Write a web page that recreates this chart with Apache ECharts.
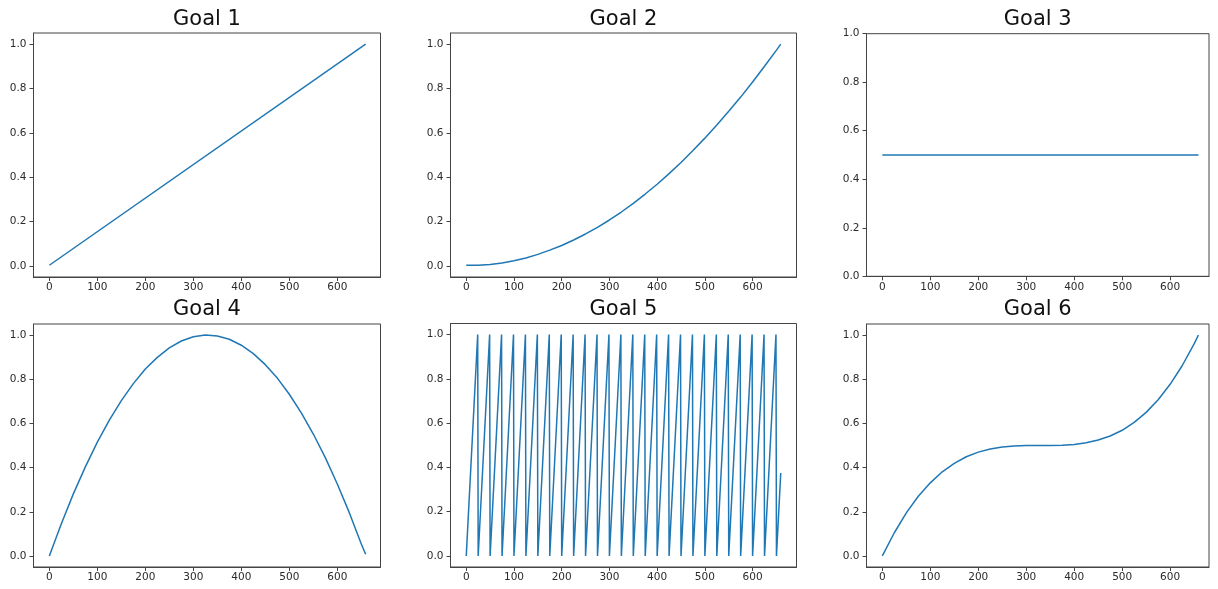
<!DOCTYPE html>
<html><head><meta charset="utf-8">
<script src="https://cdn.jsdelivr.net/npm/echarts@6/dist/echarts.min.js"></script>
<style>html,body{margin:0;padding:0;background:#fff}#c{width:1218px;height:589px}</style>
</head><body><div id="c"></div>
<script>
// ---- data ----
const titles = ['Goal 1', 'Goal 2', 'Goal 3', 'Goal 4', 'Goal 5', 'Goal 6'];
const xTicks = [0, 100, 200, 300, 400, 500, 600];
const yTicks = [0, 0.2, 0.4, 0.6, 0.8, 1.0];

const sampleX = [0, 25, 50, 75, 100, 125, 150, 175, 200, 225, 250, 275, 300, 325, 350,
  375, 400, 425, 450, 475, 500, 525, 550, 575, 600, 625, 650, 659];

const goal1X = [0, 659];
const goal1Y = [0.003, 1.0];

const goal2Y = [0.003, 0.003, 0.006, 0.013, 0.023, 0.036, 0.052, 0.071, 0.092, 0.117, 0.144,
  0.174, 0.207, 0.243, 0.282, 0.324, 0.368, 0.416, 0.466, 0.520, 0.576, 0.635, 0.697,
  0.761, 0.829, 0.900, 0.973, 1.0];

const goal3X = [0, 659];
const goal3Y = [0.5, 0.5];

const goal4Y = [0.0, 0.146, 0.281, 0.403, 0.515, 0.615, 0.703, 0.780, 0.846, 0.899, 0.942,
  0.973, 0.992, 1.0, 0.996, 0.981, 0.954, 0.916, 0.866, 0.805, 0.732, 0.648, 0.552,
  0.445, 0.326, 0.196, 0.054, 0.008];

const goal5 = [[0,0],[24,1],[25,0],[49,1],[50,0],[74,1],[75,0],[99,1],[100,0],[124,1],[125,0],
  [149,1],[150,0],[174,1],[175,0],[199,1],[200,0],[224,1],[225,0],[249,1],[250,0],
  [274,1],[275,0],[299,1],[300,0],[324,1],[325,0],[349,1],[350,0],[374,1],[375,0],
  [399,1],[400,0],[424,1],[425,0],[449,1],[450,0],[474,1],[475,0],[499,1],[500,0],
  [524,1],[525,0],[549,1],[550,0],[574,1],[575,0],[599,1],[600,0],[624,1],[625,0],
  [649,1],[650,0],[659,0.375]];

const goal6Y = [0.0, 0.105, 0.195, 0.270, 0.331, 0.381, 0.419, 0.449, 0.470, 0.484, 0.493,
  0.498, 0.500, 0.500, 0.500, 0.501, 0.505, 0.512, 0.525, 0.543, 0.569, 0.605, 0.650,
  0.707, 0.777, 0.861, 0.960, 1.0];

// ---- layout ----
const zip = (xs, ys) => xs.map((x, i) => [x, ys[i]]);
const panelData = [
  zip(goal1X, goal1Y), zip(sampleX, goal2Y), zip(goal3X, goal3Y),
  zip(sampleX, goal4Y), goal5, zip(sampleX, goal6Y)
];
const panels = [
  {left: 33.5, top: 33, width: 347, height: 244, xMax: 690, yMin: -0.05, yMax: 1.05, ty: 9},
  {left: 450.5, top: 33, width: 346, height: 244, xMax: 692, yMin: -0.05, yMax: 1.05, ty: 9},
  {left: 866.5, top: 33.7, width: 342.5, height: 242.6, xMax: 681, yMin: 0, yMax: 1, ty: 9},
  {left: 33.5, top: 324, width: 347, height: 243, xMax: 690, yMin: -0.05, yMax: 1.05, ty: 299},
  {left: 450.5, top: 323.5, width: 346, height: 243.5, xMax: 692, yMin: -0.05, yMax: 1.05, ty: 299},
  {left: 866.5, top: 324, width: 342.5, height: 243, xMax: 681, yMin: -0.05, yMax: 1.05, ty: 299}
];

const FONT = 'DejaVu Sans';
const AX = '#444';
const LBL = '#2b2b2b';

const option = {
  backgroundColor: '#fff',
  animation: false,
  title: panels.map((p, i) => ({
    text: titles[i], left: p.left + p.width / 2, top: p.ty, textAlign: 'center', padding: 0,
    textStyle: {fontFamily: FONT, fontSize: 21, fontWeight: 'normal', color: '#111'}
  })),
  grid: panels.map(p => ({
    left: p.left, top: p.top, width: p.width, height: p.height,
    show: true, borderColor: AX, borderWidth: 1, backgroundColor: 'transparent', containLabel: false
  })),
  xAxis: panels.map((p, i) => ({
    type: 'value', gridIndex: i, min: -33, max: p.xMax,
    axisLine: {show: true, onZero: false, lineStyle: {color: AX, width: 1}},
    splitLine: {show: false},
    axisTick: {show: true, length: 4, customValues: xTicks, lineStyle: {color: AX}},
    axisLabel: {customValues: xTicks, margin: 5, fontFamily: FONT, fontSize: 10.5, color: LBL}
  })),
  yAxis: panels.map((p, i) => ({
    type: 'value', gridIndex: i, min: p.yMin, max: p.yMax,
    axisLine: {show: true, onZero: false, lineStyle: {color: AX, width: 1}},
    splitLine: {show: false},
    axisTick: {show: true, length: 4, customValues: yTicks, lineStyle: {color: AX}},
    axisLabel: {customValues: yTicks, margin: 7, fontFamily: FONT, fontSize: 10.5, color: LBL,
      formatter: v => Number(v).toFixed(1)}
  })),
  series: panelData.map((d, i) => ({
    type: 'line', xAxisIndex: i, yAxisIndex: i, data: d,
    showSymbol: false, symbol: 'none', smooth: false, clip: true,
    lineStyle: {color: '#1f77b4', width: 1.5}
  }))
};

const chart = echarts.init(document.getElementById('c'), null, {renderer: 'canvas'});
chart.setOption(option);
</script>
</body></html>
